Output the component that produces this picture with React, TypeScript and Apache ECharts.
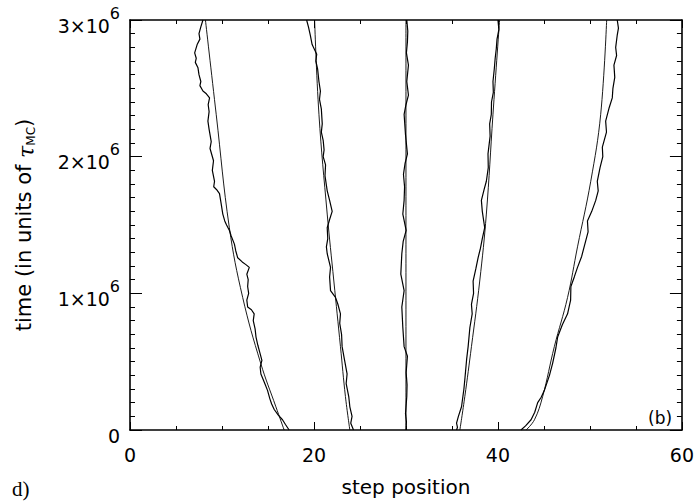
import React, { useEffect, useRef } from "react";
import * as echarts from "echarts";

// time values are in units of 10^6 tau_MC
const xTicks = [0, 20, 40, 60];
const yTicks = [0, 1, 2, 3];

const smooth1 = [[16.76, 0], [15.86, 0.17], [14.2, 0.49], [12.25, 0.97], [10.8, 1.48], [9.37, 2.31], [8.2, 3.0]];
const smooth2 = [[23.9, 0], [23.42, 0.245], [22.88, 0.61], [22.16, 1.09], [21.44, 1.58], [20.54, 2.31], [20.07, 3.0]];
const smooth3 = [[30.0, 0], [30.0, 3.0]];
const smooth4 = [[35.86, 0], [36.4, 0.245], [37.12, 0.61], [38.02, 1.09], [38.74, 1.58], [39.46, 2.31], [40.18, 3.0]];
const smooth5 = [[43.06, 0], [43.97, 0.075], [44.86, 0.245], [46.13, 0.61], [47.57, 0.97], [48.65, 1.34], [50.09, 1.82], [51.17, 2.31], [51.82, 3.0]];

const walk1 = [[7.93, 3.0], [7.7, 2.95], [7.5, 2.9], [7.6, 2.86], [7.3, 2.82], [7.03, 2.76], [7.2, 2.72], [7.1, 2.69], [7.39, 2.65], [7.5, 2.6], [7.7, 2.55], [7.6, 2.52], [7.93, 2.48], [8.3, 2.46], [8.65, 2.43], [8.5, 2.38], [8.6, 2.33], [8.47, 2.26], [8.6, 2.2], [8.83, 2.11], [8.7, 2.06], [9.08, 1.97], [8.95, 1.9], [9.19, 1.82], [9.1, 1.78], [9.4, 1.76], [9.73, 1.73], [9.9, 1.66], [10.09, 1.58], [10.3, 1.53], [10.5, 1.5], [10.81, 1.46], [11.0, 1.42], [11.35, 1.36], [11.5, 1.31], [11.71, 1.26], [12.2, 1.23], [12.6, 1.21], [12.97, 1.19], [12.7, 1.14], [12.85, 1.1], [12.79, 1.05], [12.9, 1.0], [12.7, 0.95], [12.79, 0.9], [13.2, 0.88], [13.5, 0.85], [13.4, 0.8], [13.6, 0.74], [13.7, 0.68], [13.9, 0.62], [14.1, 0.57], [14.34, 0.51], [14.15, 0.46], [14.23, 0.41], [14.6, 0.35], [14.95, 0.29], [15.2, 0.23], [15.4, 0.19], [15.68, 0.15], [16.1, 0.11], [16.58, 0.075], [16.9, 0.04], [17.3, 0.0]];
const walk2 = [[19.2, 3.0], [19.4, 2.95], [19.6, 2.89], [19.8, 2.82], [20.3, 2.75], [20.2, 2.7], [20.4, 2.64], [20.54, 2.55], [20.7, 2.48], [20.6, 2.42], [20.8, 2.35], [20.9, 2.24], [20.8, 2.18], [21.0, 2.12], [21.1, 2.05], [21.0, 2.0], [21.26, 1.94], [21.2, 1.86], [21.44, 1.75], [21.7, 1.68], [21.98, 1.6], [21.7, 1.54], [21.44, 1.48], [21.5, 1.4], [21.35, 1.34], [21.44, 1.29], [21.8, 1.19], [21.7, 1.12], [21.8, 1.02], [22.34, 0.97], [22.6, 0.92], [22.88, 0.85], [22.8, 0.78], [23.0, 0.7], [23.06, 0.61], [23.3, 0.52], [23.6, 0.41], [23.5, 0.34], [23.78, 0.245], [23.9, 0.17], [24.14, 0.1], [24.0, 0.05], [24.3, 0.0]];
const walk3 = [[30.09, 3.0], [30.2, 2.92], [30.16, 2.84], [30.05, 2.76], [30.27, 2.67], [30.09, 2.55], [30.27, 2.45], [30.0, 2.38], [29.8, 2.31], [29.95, 2.16], [30.16, 2.02], [29.9, 1.95], [29.73, 1.87], [29.85, 1.78], [29.8, 1.68], [29.66, 1.58], [30.02, 1.46], [29.7, 1.38], [29.55, 1.29], [29.44, 1.14], [29.8, 1.02], [29.55, 0.9], [29.66, 0.75], [29.8, 0.61], [30.16, 0.54], [30.02, 0.42], [30.12, 0.33], [30.09, 0.245], [29.95, 0.12], [30.05, 0.06], [30.02, 0.0]];
const walk4 = [[40.0, 3.0], [40.1, 2.93], [39.9, 2.86], [39.82, 2.79], [39.7, 2.72], [39.6, 2.64], [39.46, 2.55], [39.5, 2.47], [39.3, 2.4], [39.28, 2.31], [39.1, 2.24], [39.15, 2.15], [38.92, 2.02], [38.95, 1.92], [38.74, 1.82], [38.5, 1.76], [38.2, 1.68], [38.3, 1.6], [38.56, 1.48], [38.3, 1.4], [38.1, 1.33], [37.84, 1.26], [37.6, 1.18], [37.3, 1.09], [37.35, 1.0], [37.12, 0.92], [37.2, 0.85], [36.95, 0.75], [36.76, 0.61], [36.6, 0.52], [36.4, 0.37], [36.3, 0.3], [36.04, 0.17], [35.7, 0.1], [35.5, 0.05], [35.6, 0.02], [35.5, 0.0]];
const walk5 = [[52.97, 3.0], [53.1, 2.94], [52.97, 2.89], [52.8, 2.8], [52.9, 2.74], [52.61, 2.67], [52.7, 2.58], [52.5, 2.5], [52.43, 2.43], [52.1, 2.36], [51.71, 2.26], [51.8, 2.18], [51.35, 2.07], [51.4, 2.0], [51.1, 1.92], [50.8, 1.82], [50.9, 1.75], [50.63, 1.68], [50.2, 1.6], [49.73, 1.53], [49.8, 1.45], [49.37, 1.34], [49.1, 1.27], [48.65, 1.19], [48.3, 1.12], [47.93, 1.05], [47.9, 0.95], [47.57, 0.85], [47.0, 0.77], [46.49, 0.68], [46.3, 0.6], [45.95, 0.49], [45.6, 0.4], [45.05, 0.29], [44.7, 0.24], [44.32, 0.2], [44.0, 0.13], [43.6, 0.075], [43.0, 0.03], [42.5, 0.0]];

const smoothCurves = [smooth1, smooth2, smooth3, smooth4, smooth5];
const walks = [walk1, walk2, walk3, walk4, walk5];

const FONT = "DejaVu Sans, sans-serif";

export default function App() {
  const ref = useRef<HTMLDivElement>(null);
  useEffect(() => {
    if (!ref.current) return;
    const chart = echarts.init(ref.current, null, { renderer: "svg" });
    const axisLine = { show: true, onZero: false, lineStyle: { color: "#000", width: 1.6 } };
    const xCommon = {
      type: "value",
      min: xTicks[0],
      max: xTicks[xTicks.length - 1],
      interval: 20,
      axisLine,
      splitLine: { show: false },
      axisTick: { show: true, inside: true, length: 8, lineStyle: { color: "#000", width: 1 } },
      minorTick: { show: true, splitNumber: 4, length: 4, lineStyle: { color: "#000", width: 1 } },
    };
    const yCommon = {
      type: "value",
      min: yTicks[0],
      max: yTicks[yTicks.length - 1],
      interval: 1,
      axisLine,
      splitLine: { show: false },
      axisTick: { show: true, inside: true, length: 12, lineStyle: { color: "#000", width: 1 } },
      minorTick: { show: true, splitNumber: 10, length: 5, lineStyle: { color: "#000", width: 1 } },
    };
    const series: any[] = [];
    smoothCurves.forEach((d) => {
      series.push({
        type: "line",
        data: d,
        smooth: 0.4,
        showSymbol: false,
        lineStyle: { color: "#000", width: 0.9 },
        xAxisIndex: 0,
        yAxisIndex: 0,
        silent: true,
      });
    });
    walks.forEach((d) => {
      series.push({
        type: "line",
        data: d,
        showSymbol: false,
        lineStyle: { color: "#000", width: 1.2 },
        xAxisIndex: 0,
        yAxisIndex: 0,
        silent: true,
      });
    });
    chart.setOption({
      animation: false,
      backgroundColor: "#fff",
      grid: { left: 130, right: 12, top: 20, bottom: 70 },
      xAxis: [
        {
          ...xCommon,
          position: "bottom",
          name: "step position",
          nameLocation: "middle",
          nameGap: 47,
          nameTextStyle: { fontSize: 20, color: "#000", fontFamily: FONT },
          axisLabel: { show: true, margin: 15, fontSize: 19, color: "#000", fontFamily: FONT },
        },
        { ...xCommon, position: "top", axisLabel: { show: false } },
      ],
      yAxis: [
        {
          ...yCommon,
          position: "left",
          name: "time (in units of {g|τ}{sub|MC})",
          nameLocation: "middle",
          nameGap: 93,
          nameTextStyle: {
            fontSize: 21,
            color: "#000",
            fontFamily: FONT,
            rich: {
              g: { fontSize: 22, fontStyle: "italic", color: "#000", fontFamily: "DejaVu Serif, serif", verticalAlign: "bottom", lineHeight: 26 },
              sub: { fontSize: 12, color: "#000", fontFamily: FONT, verticalAlign: "bottom", lineHeight: 20 },
            },
          },
          axisLabel: {
            show: true,
            margin: 10,
            color: "#000",
            formatter: (v: number) => (v === 0 ? "{b|0}" : `{b|${v}×10}{s|6}`),
            rich: {
              b: { fontSize: 19, color: "#000", fontFamily: FONT, lineHeight: 30, verticalAlign: "bottom" },
              s: { fontSize: 16, color: "#000", fontFamily: FONT, lineHeight: 16, verticalAlign: "top" },
            },
          },
        },
        { ...yCommon, position: "right", axisLabel: { show: false } },
      ],
      graphic: [
        { type: "text", left: 648, top: 409, style: { text: "(b)", fontSize: 17, fill: "#000", fontFamily: FONT } },
        { type: "text", left: 12, top: 478, style: { text: "d)", fontSize: 21, fill: "#000", fontFamily: "Liberation Serif, serif" } },
      ],
      series,
    });
    return () => chart.dispose();
  }, []);
  return <div ref={ref} style={{ position: "fixed", left: 0, top: 0, width: 697, height: 502 }} />;
}
